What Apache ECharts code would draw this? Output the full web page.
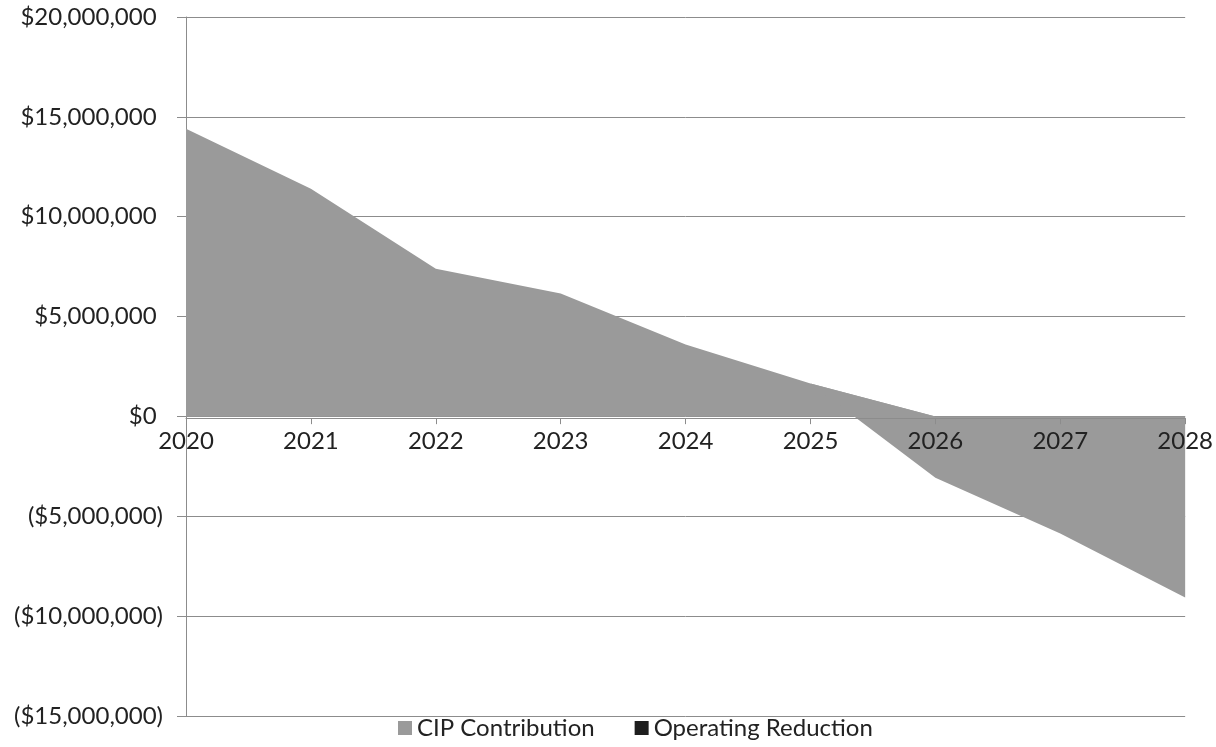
<!DOCTYPE html>
<html>
<head>
<meta charset="utf-8">
<script src="https://cdn.jsdelivr.net/npm/echarts@6/dist/echarts.min.js"></script>
<style>
html,body{margin:0;padding:0;background:#fff;}
#chart{width:1216px;height:747px;}
</style>
</head>
<body>
<div id="chart"></div>
<script>
const years = ['2020','2021','2022','2023','2024','2025','2026','2027','2028'];
const cipContribution = [14400000, 11400000, 7400000, 6150000, 3600000, 1650000, 0, 0, 0];
const operatingReduction = [0, 0, 0, 0, 0, 0, -3070000, -5860000, -9070000];
const yTicks = { min: -15000000, max: 20000000, interval: 5000000 };

function fmtMoney(v) {
  const s = '$' + Math.abs(v).toLocaleString('en-US');
  return v < 0 ? '{t|(' + s + ')}' : '{t|' + s + '}{h|)}';
}

const FONT = 'Lato';
const TXT = '#222222';
const chart = echarts.init(document.getElementById('chart'));
const option = {
  animation: false,
  backgroundColor: '#ffffff',
  grid: { left: 186, right: 29, top: 17, bottom: 31, containLabel: false },
  legend: {
    left: 393,
    bottom: 2,
    itemWidth: 14,
    itemHeight: 14,
    itemGap: 40,
    icon: 'rect',
    textStyle: { fontFamily: FONT, fontSize: 24, color: TXT },
    data: [
      { name: 'CIP Contribution', itemStyle: { color: '#9a9a9a' } },
      { name: 'Operating Reduction', itemStyle: { color: '#1e1e1e' } }
    ]
  },
  xAxis: {
    type: 'category',
    data: years,
    boundaryGap: false,
    offset: 0,
    z: 10,
    axisLine: { onZero: false, lineStyle: { color: '#8c8c8c', width: 1 } },
    axisTick: { show: true, length: 6, inside: false, lineStyle: { color: '#8c8c8c' } },
    axisLabel: { fontFamily: FONT, fontSize: 24, color: TXT, margin: 11 },
    splitLine: { show: false }
  },
  yAxis: {
    type: 'value',
    min: yTicks.min,
    max: yTicks.max,
    interval: yTicks.interval,
    axisLine: { show: true, lineStyle: { color: '#8c8c8c', width: 1 } },
    axisTick: { show: true, length: 9, lineStyle: { color: '#8c8c8c' } },
    axisLabel: {
      fontFamily: FONT, fontSize: 24, color: TXT, margin: 23, formatter: fmtMoney,
      rich: {
        t: { fontFamily: FONT, fontSize: 24, color: TXT },
        h: { fontFamily: FONT, fontSize: 24, color: 'rgba(0,0,0,0)' }
      }
    },
    splitLine: { show: true, lineStyle: { color: '#8c8c8c', width: 1 } }
  },
  series: [
    {
      name: 'CIP Contribution',
      type: 'line',
      stack: 'total',
      stackStrategy: 'all',
      data: cipContribution,
      showSymbol: false,
      symbol: 'none',
      lineStyle: { width: 0 },
      itemStyle: { color: '#9a9a9a' },
      areaStyle: { color: '#9a9a9a', opacity: 1 }
    },
    {
      name: 'Operating Reduction',
      type: 'line',
      stack: 'total',
      stackStrategy: 'all',
      data: operatingReduction,
      showSymbol: false,
      symbol: 'none',
      lineStyle: { width: 0 },
      itemStyle: { color: '#9a9a9a' },
      areaStyle: { color: '#9a9a9a', opacity: 1 }
    }
  ]
};
chart.setOption(option);
// Move the category axis (line, ticks, labels) up to the value axis' zero.
const yZero = chart.convertToPixel({ yAxisIndex: 0 }, 0);
const yBottom = chart.convertToPixel({ yAxisIndex: 0 }, yTicks.min);
chart.setOption({ xAxis: { offset: yZero - yBottom } });
</script>
</body>
</html>
